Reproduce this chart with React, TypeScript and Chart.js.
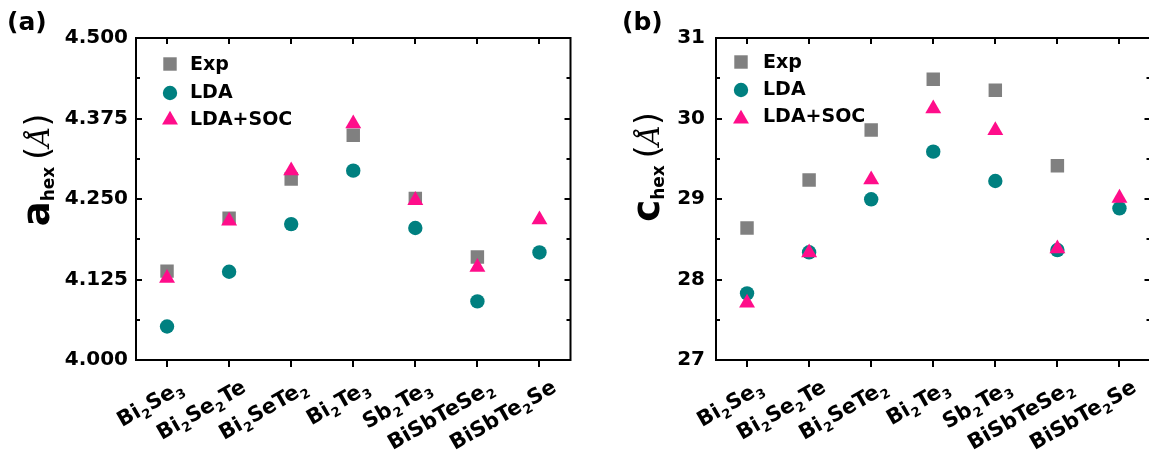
import React, { useEffect, useRef } from 'react';
import { Chart, registerables } from 'chart.js';
Chart.register(...registerables);

// ---------- data ----------
const categories = ['Bi2Se3', 'Bi2Se2Te', 'Bi2SeTe2', 'Bi2Te3', 'Sb2Te3', 'BiSbTeSe2', 'BiSbTe2Se'];
const seriesNames = ['Exp', 'LDA', 'LDA+SOC'];

const aExp = [4.138, 4.220, 4.281, 4.349, 4.251, 4.160, null];
const aLDA = [4.052, 4.137, 4.211, 4.294, 4.205, 4.091, 4.167];
const aSOC = [4.127, 4.216, 4.294, 4.367, 4.248, 4.144, 4.218];

const cExp = [28.640, 29.236, 29.857, 30.487, 30.350, 29.414, null];
const cLDA = [27.828, 28.338, 28.996, 29.588, 29.224, 28.366, 28.884];
const cSOC = [27.708, 28.333, 29.240, 30.122, 29.853, 28.383, 29.012];

const aTickMin = 4.0;
const aTickMax = 4.5;
const aTickStep = 0.125;
const cTickMin = 27;
const cTickMax = 31;
const cTickStep = 1;

// ---------- styles ----------
const COLORS = ['#808080', '#008080', '#ff0d8a'];
const STYLES = ['rect', 'circle', 'triangle'];
const RADII = [9.5, 7.2, 9.2];
const DRAW_ORDER = [3, 2, 1];
const FONT = "'DejaVu Sans', 'Liberation Sans', sans-serif";

function drawMarker(ctx: CanvasRenderingContext2D, style: string, x: number, y: number, r: number, color: string) {
  ctx.fillStyle = color;
  ctx.beginPath();
  if (style === 'rect') {
    const s = r * Math.SQRT1_2;
    ctx.rect(x - s, y - s, 2 * s, 2 * s);
  } else if (style === 'circle') {
    ctx.arc(x, y, r, 0, Math.PI * 2);
  } else {
    ctx.moveTo(x, y - r);
    ctx.lineTo(x + r * Math.sin(Math.PI * 2 / 3), y - r * Math.cos(Math.PI * 2 / 3));
    ctx.lineTo(x - r * Math.sin(Math.PI * 2 / 3), y - r * Math.cos(Math.PI * 2 / 3));
    ctx.closePath();
  }
  ctx.fill();
}

const frameTicks = {
  id: 'frameTicks',
  beforeDatasetsDraw(chart: any) {
    const { ctx, chartArea } = chart;
    const { left, right, top, bottom } = chartArea;
    const xs = chart.scales.x;
    const ys = chart.scales.y;
    ctx.save();
    ctx.strokeStyle = '#000';
    ctx.lineWidth = 2;
    ctx.strokeRect(left, top, right - left, bottom - top);
    const seg = (x1: number, y1: number, x2: number, y2: number) => {
      ctx.beginPath();
      ctx.moveTo(x1, y1);
      ctx.lineTo(x2, y2);
      ctx.stroke();
    };
    for (let i = 0; i < xs.ticks.length; i++) {
      const px = Math.round(xs.getPixelForTick(i));
      seg(px, top, px, top + 6);
      seg(px, bottom, px, bottom + 7);
    }
    const yt = ys.ticks;
    for (let i = 0; i < yt.length; i++) {
      const py = Math.round(ys.getPixelForValue(yt[i].value));
      seg(left, py, left + 6, py);
      seg(right, py, right - 6, py);
      if (i < yt.length - 1) {
        const pm = Math.round(ys.getPixelForValue((yt[i].value + yt[i + 1].value) / 2));
        seg(left, pm, left + 4, pm);
        seg(right, pm, right - 4, pm);
      }
    }
    ctx.restore();
  },
};

function parseLabel(s: string) {
  return (s.match(/\d+|\D+/g) || []).map((t) => ({ t, sub: /\d/.test(t) }));
}

const xLabels = {
  id: 'xLabels',
  afterDraw(chart: any) {
    const { ctx, chartArea } = chart;
    const xs = chart.scales.x;
    const mainFont = `bold 21px ${FONT}`;
    const subFont = `bold 13px ${FONT}`;
    const angle = (30 * Math.PI) / 180;
    ctx.save();
    ctx.fillStyle = '#000';
    ctx.textBaseline = 'alphabetic';
    ctx.textAlign = 'left';
    categories.forEach((lab, i) => {
      const px = xs.getPixelForTick(i);
      const segs = parseLabel(lab);
      let total = 0;
      const widths = segs.map((s) => {
        ctx.font = s.sub ? subFont : mainFont;
        const w = ctx.measureText(s.t).width + (s.sub ? 1 : 0);
        total += w;
        return w;
      });
      ctx.save();
      ctx.translate(px + 18, chartArea.bottom + 31);
      ctx.rotate(-angle);
      let cx = -total;
      segs.forEach((s, k) => {
        ctx.font = s.sub ? subFont : mainFont;
        ctx.fillText(s.t, cx + (s.sub ? 0.5 : 0), s.sub ? 5 : 0);
        cx += widths[k];
      });
      ctx.restore();
    });
    ctx.restore();
  },
};

const legendBox = {
  id: 'legendBox',
  afterDatasetsDraw(chart: any, _args: any, opts: any) {
    const { ctx, chartArea } = chart;
    ctx.save();
    ctx.font = `bold 19px ${FONT}`;
    ctx.textBaseline = 'alphabetic';
    ctx.textAlign = 'left';
    seriesNames.forEach((name, i) => {
      drawMarker(ctx, STYLES[i], chartArea.left + opts.mx, chartArea.top + opts.my[i], RADII[i], COLORS[i]);
      ctx.fillStyle = '#000';
      ctx.fillText(name, chartArea.left + opts.tx, chartArea.top + opts.ty[i]);
    });
    ctx.restore();
  },
};

function buildChart(
  canvas: HTMLCanvasElement,
  series: (number | null)[][],
  min: number,
  max: number,
  step: number,
  decimals: number,
  padRight: number,
  tickPad: number,
  legendOpts: any
) {
  return new Chart(canvas, {
    type: 'line',
    data: {
      labels: categories,
      datasets: series.map((d, i) => ({
        label: seriesNames[i],
        data: d,
        order: DRAW_ORDER[i],
        showLine: false,
        pointStyle: STYLES[i] as any,
        pointRadius: RADII[i],
        pointHoverRadius: RADII[i],
        pointBorderWidth: 0,
        backgroundColor: COLORS[i],
        borderColor: COLORS[i],
      })),
    },
    options: {
      responsive: false,
      animation: false,
      events: [],
      layout: { padding: { top: 38, right: padRight, left: 0, bottom: 0 } },
      plugins: {
        legend: { display: false },
        tooltip: { enabled: false },
        legendBox: legendOpts,
      } as any,
      scales: {
        x: {
          type: 'category',
          offset: true,
          ticks: { display: false },
          grid: { display: false, drawTicks: false },
          border: { display: false },
          afterFit: (s: any) => {
            s.height = 98;
          },
        },
        y: {
          min,
          max,
          ticks: {
            stepSize: step,
            color: '#000',
            padding: tickPad,
            font: { family: FONT, size: 20, weight: 'bold' },
            callback: (v: any) => Number(v).toFixed(decimals),
          },
          grid: { display: false, drawTicks: false },
          border: { display: false },
          afterFit: (s: any) => {
            s.width = 136;
          },
        },
      },
    },
    plugins: [frameTicks, xLabels, legendBox],
  });
}

function YTitle({ x, y, letter }: { x: number; y: number; letter: string }) {
  return (
    <div style={{ position: 'absolute', left: x, top: y, width: 0, height: 0 }}>
      <div
        style={{
          position: 'absolute',
          left: 0,
          top: 0,
          transform: 'translate(-50%, -50%) rotate(-90deg)',
          whiteSpace: 'nowrap',
          lineHeight: 1,
          fontFamily: FONT,
          color: '#000',
        }}
      >
        <span style={{ fontSize: 37, fontWeight: 'bold' }}>{letter}</span>
        <span style={{ fontSize: 17, fontWeight: 'bold', position: 'relative', top: 5 }}>hex</span>
        <span style={{ fontSize: 33, marginLeft: 7 }}>(</span>
        <span style={{ fontSize: 28, fontFamily: "'DejaVu Serif', serif", fontStyle: 'italic' }}>Å</span>
        <span style={{ fontSize: 33 }}>)</span>
      </div>
    </div>
  );
}

export default function App() {
  const refA = useRef<HTMLCanvasElement>(null);
  const refB = useRef<HTMLCanvasElement>(null);

  useEffect(() => {
    const chA = buildChart(refA.current!, [aExp, aLDA, aSOC], aTickMin, aTickMax, aTickStep, 3, 5, 8, {
      mx: 34,
      my: [26, 55, 82],
      tx: 54,
      ty: [32, 60, 87],
    });
    const chB = buildChart(refB.current!, [cExp, cLDA, cSOC], cTickMin, cTickMax, cTickStep, 0, 7, 11, {
      mx: 25,
      my: [24, 52, 81],
      tx: 47,
      ty: [30, 57, 84],
    });
    return () => {
      chA.destroy();
      chB.destroy();
    };
  }, []);

  return (
    <div
      style={{
        position: 'absolute',
        left: 0,
        top: 0,
        width: 1149,
        height: 458,
        overflow: 'hidden',
        background: '#fff',
      }}
    >
      <canvas ref={refA} width={580} height={458} style={{ position: 'absolute', left: 0, top: 0 }} />
      <canvas ref={refB} width={580} height={458} style={{ position: 'absolute', left: 580, top: 0 }} />
      <div style={{ position: 'absolute', left: 7, top: 9, font: `bold 25px ${FONT}`, lineHeight: 1 }}>(a)</div>
      <div style={{ position: 'absolute', left: 622, top: 9, font: `bold 25px ${FONT}`, lineHeight: 1 }}>(b)</div>
      <YTitle x={36} y={170} letter="a" />
      <YTitle x={646} y={167} letter="c" />
    </div>
  );
}
